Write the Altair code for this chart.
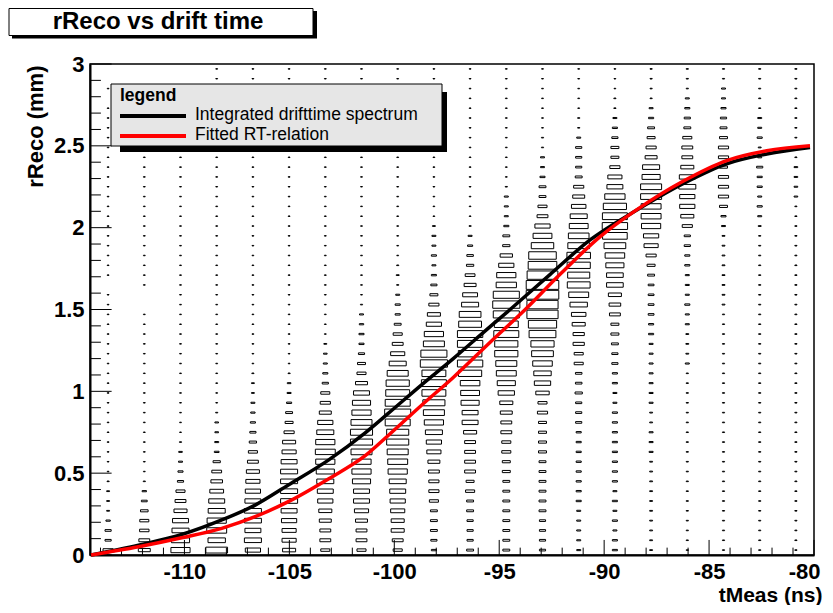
import altair as alt
import pandas as pd

# ---------------- binning of the 2D histogram ----------------
X_MIN, X_MAX = -114.5, -80.0
Y_MIN, Y_MAX = 0.0, 3.0
N_X, N_Y = 20, 50

B = 0.05  # size of the faint background dots

# relative box size per cell, one list per tMeas bin (rows: rReco bins from 0 upward)
col00 = [0.28, 0.17, 0.17, 0.12, 0.08, 0.08, 0.08, 0.06, 0.05, 0.05,
         0.05, 0.05, 0.05, 0.05, 0.05, 0.05, 0.05, 0.05, 0.05, 0.05,
         0.05, 0.05, 0.05, 0.05, 0.05, 0.05, 0.05, 0.00, 0.05, 0.05,
         0.05, 0.05, 0.05, 0.05, 0.05, 0.05, 0.05, 0.05, 0.05, 0.05,
         0.05, 0.05, 0.05, 0.05, 0.05, 0.05, 0.00, 0.05, 0.00, 0.00]
col01 = [0.33, 0.30, 0.26, 0.25, 0.21, 0.16, 0.12, 0.06, 0.05, 0.05,
         0.05, 0.05, 0.05, 0.05, 0.05, 0.05, 0.05, 0.05, 0.05, 0.05,
         0.05, 0.05, 0.05, 0.05, 0.05, 0.00, 0.00, 0.05, 0.05, 0.05,
         0.05, 0.05, 0.05, 0.05, 0.05, 0.05, 0.05, 0.05, 0.05, 0.05,
         0.05, 0.05, 0.05, 0.05, 0.05, 0.05, 0.05, 0.05, 0.00, 0.00]
col02 = [0.53, 0.50, 0.47, 0.44, 0.36, 0.30, 0.25, 0.17, 0.14, 0.11,
         0.10, 0.06] + [B] * 36 + [0.00, 0.00]
col03 = [0.60, 0.48, 0.55, 0.53, 0.47, 0.44, 0.38, 0.32, 0.27, 0.20,
         0.13, 0.11, 0.10, 0.10, 0.06] + [B] * 35
col04 = [0.42, 0.47, 0.44, 0.47, 0.47, 0.44, 0.42, 0.39, 0.36, 0.30,
         0.25, 0.20, 0.17, 0.14, 0.12, 0.11, 0.08, 0.08, 0.06] + [B] * 31
col05 = [0.36, 0.39, 0.39, 0.42, 0.44, 0.47, 0.47, 0.47, 0.47, 0.44,
         0.39, 0.36, 0.28, 0.22, 0.19, 0.14, 0.11, 0.10, 0.06] + [B] * 31
col06 = [0.25, 0.30, 0.30, 0.33, 0.36, 0.42, 0.44, 0.47, 0.50, 0.53,
         0.55, 0.53, 0.47, 0.42, 0.33, 0.28, 0.25, 0.17, 0.14, 0.11,
         0.10, 0.08] + [B] * 28
col07 = [0.25, 0.30, 0.30, 0.33, 0.39, 0.44, 0.44, 0.50, 0.53, 0.53,
         0.58, 0.61, 0.61, 0.58, 0.53, 0.50, 0.44, 0.33, 0.25, 0.22,
         0.17, 0.14, 0.14, 0.12, 0.11, 0.06] + [B] * 24
col08 = [0.25, 0.30, 0.36, 0.36, 0.39, 0.42, 0.44, 0.47, 0.53, 0.55,
         0.58, 0.61, 0.61, 0.69, 0.72, 0.69, 0.66, 0.64, 0.58, 0.47,
         0.39, 0.30, 0.25, 0.19, 0.14, 0.14, 0.11, 0.06, 0.08, 0.06] + [B] * 20
col09 = [0.14, 0.17, 0.19, 0.19, 0.19, 0.25, 0.28, 0.28, 0.30, 0.33,
         0.39, 0.42, 0.47, 0.53, 0.58, 0.61, 0.66, 0.69, 0.66, 0.75,
         0.72, 0.58, 0.53, 0.42, 0.36, 0.28, 0.22, 0.17, 0.14, 0.11,
         0.14, 0.11, 0.11, 0.08] + [B] * 16
col10 = [0.19, 0.17, 0.17, 0.17, 0.19, 0.19, 0.25, 0.22, 0.30, 0.30,
         0.30, 0.30, 0.36, 0.44, 0.44, 0.50, 0.52, 0.54, 0.64, 0.70,
         0.65, 0.70, 0.70, 0.63, 0.60, 0.47, 0.41, 0.33, 0.27, 0.20,
         0.18, 0.14, 0.11, 0.06] + [B] * 16
col11 = [0.19, 0.19, 0.19, 0.19, 0.19, 0.19, 0.19, 0.19, 0.22, 0.22,
         0.25, 0.25, 0.30, 0.30, 0.33, 0.36, 0.45, 0.50, 0.55, 0.58,
         0.64, 0.64, 0.69, 0.66, 0.72, 0.75, 0.72, 0.56, 0.53, 0.42,
         0.34, 0.20, 0.19, 0.14, 0.11, 0.11, 0.11, 0.06] + [B] * 12
col12 = [0.17, 0.17, 0.17, 0.17, 0.19, 0.19, 0.19, 0.19, 0.19, 0.19,
         0.22, 0.22, 0.22, 0.22, 0.28, 0.25, 0.37, 0.45, 0.48, 0.54,
         0.60, 0.64, 0.74, 0.78, 0.86, 0.86, 0.90, 0.90, 0.85, 0.79,
         0.76, 0.62, 0.52, 0.42, 0.30, 0.25, 0.19, 0.19, 0.14, 0.11,
         0.11, 0.06, 0.06] + [B] * 7
col13 = [0.11, 0.11, 0.11, 0.11, 0.11, 0.14, 0.14, 0.14, 0.14, 0.14,
         0.14, 0.14, 0.14, 0.17, 0.17, 0.17, 0.20, 0.18, 0.18, 0.25,
         0.25, 0.31, 0.31, 0.36, 0.40, 0.48, 0.55, 0.63, 0.61, 0.64,
         0.65, 0.60, 0.57, 0.52, 0.47, 0.40, 0.33, 0.28, 0.19, 0.17,
         0.17, 0.17, 0.11, 0.06, 0.06, 0.05, 0.05, 0.05, 0.05, 0.05]
col14 = [0.14, 0.14, 0.11, 0.14, 0.11, 0.14, 0.11, 0.14, 0.14, 0.14,
         0.14, 0.14, 0.14, 0.14, 0.14, 0.11, 0.11, 0.14, 0.14, 0.17,
         0.17, 0.19, 0.22, 0.22, 0.30, 0.32, 0.36, 0.46, 0.46, 0.50,
         0.54, 0.60, 0.68, 0.70, 0.69, 0.64, 0.56, 0.44, 0.39, 0.28,
         0.22, 0.22, 0.17, 0.14, 0.11, 0.06, 0.06, 0.05, 0.05, 0.05]
col15 = [0.08, 0.08, 0.08, 0.08, 0.08, 0.08, 0.08, 0.08, 0.08, 0.08,
         0.11, 0.11, 0.11, 0.08, 0.08, 0.11, 0.11, 0.11, 0.11, 0.11,
         0.11, 0.11, 0.14, 0.14, 0.16, 0.16, 0.16, 0.16, 0.19, 0.22,
         0.28, 0.39, 0.42, 0.53, 0.55, 0.55, 0.58, 0.58, 0.50, 0.47,
         0.33, 0.28, 0.22, 0.19, 0.14, 0.11, 0.06, 0.06, 0.06, 0.06]
col16 = [0.06, 0.06, 0.06, 0.06, 0.06, 0.06, 0.06, 0.06, 0.06, 0.06,
         0.06, 0.06, 0.06, 0.06, 0.06, 0.06, 0.06, 0.06, 0.06, 0.11,
         0.08, 0.08, 0.08, 0.11, 0.11, 0.14, 0.11, 0.11, 0.11, 0.14,
         0.14, 0.17, 0.17, 0.28, 0.36, 0.42, 0.42, 0.47, 0.44, 0.36,
         0.30, 0.30, 0.25, 0.19, 0.17, 0.14, 0.11, 0.06, 0.06, 0.06]
col17 = [0.06, 0.06, 0.06, 0.06, 0.06, 0.06, 0.06, 0.06, 0.06, 0.06,
         0.06, 0.06, 0.06, 0.06, 0.06, 0.06, 0.06, 0.06, 0.06, 0.06,
         0.06, 0.06, 0.06, 0.06, 0.06, 0.08, 0.08, 0.08, 0.08, 0.08,
         0.08, 0.08, 0.08, 0.11, 0.14, 0.22, 0.28, 0.28, 0.28, 0.22,
         0.28, 0.28, 0.22, 0.19, 0.17, 0.14, 0.11, 0.11, 0.06, 0.06]
col18 = [0.06, 0.06, 0.06, 0.06, 0.06, 0.06, 0.06, 0.06, 0.06, 0.06,
         0.06, 0.06, 0.06, 0.06, 0.06, 0.06, 0.06, 0.06, 0.06, 0.06,
         0.06, 0.06, 0.06, 0.06, 0.06, 0.06, 0.06, 0.06, 0.06, 0.06,
         0.06, 0.06, 0.06, 0.08, 0.11, 0.14, 0.11, 0.14, 0.14, 0.17,
         0.11, 0.08, 0.14, 0.11, 0.11, 0.06, 0.06, 0.06, 0.06, 0.06]
col19 = [0.06, 0.06, 0.06, 0.06, 0.06, 0.06, 0.06, 0.06, 0.06, 0.06,
         0.06, 0.06, 0.06, 0.06, 0.06, 0.06, 0.06, 0.06, 0.06, 0.06,
         0.06, 0.06, 0.06, 0.06, 0.06, 0.06, 0.06, 0.06, 0.06, 0.06,
         0.06, 0.06, 0.06, 0.06, 0.06, 0.06, 0.10, 0.10, 0.10, 0.10,
         0.06, 0.06, 0.06, 0.06, 0.06, 0.06, 0.06, 0.06, 0.06, 0.06]
columns = [col00, col01, col02, col03, col04, col05, col06, col07, col08, col09,
           col10, col11, col12, col13, col14, col15, col16, col17, col18, col19]

# ---------------- curves ----------------
black_t = [-114.45, -112.19, -110.13, -108.22, -106.63, -105.05, -103.14, -101.40,
           -100.29, -98.70, -97.19, -95.75, -94.48, -92.57, -90.67, -88.44,
           -86.22, -84.16, -82.25, -80.19]
black_r = [0.0, 0.060, 0.125, 0.214, 0.305, 0.428, 0.580, 0.745,
           0.865, 1.040, 1.200, 1.360, 1.500, 1.715, 1.925, 2.108,
           2.270, 2.390, 2.450, 2.490]
red_t = [-114.45, -112.19, -110.13, -108.22, -106.63, -105.05, -103.14, -101.40,
         -100.29, -98.70, -97.19, -95.43, -93.76, -92.10, -90.19, -88.44,
         -86.22, -84.16, -82.25, -80.19]
red_r = [0.0, 0.050, 0.105, 0.163, 0.234, 0.326, 0.465, 0.605,
         0.730, 0.915, 1.085, 1.300, 1.500, 1.715, 1.945, 2.110,
         2.285, 2.410, 2.470, 2.500]

series_names = ["Integrated drifttime spectrum", "Fitted RT-relation"]
x_labels = [-110, -105, -100, -95, -90, -85, -80]
y_labels = [0, 0.5, 1, 1.5, 2, 2.5, 3]
x_minor = list(range(-114, -79))
y_minor = [round(0.1 * k, 1) for k in range(0, 31)]

FONT = "Liberation Sans"
W, H = 724, 491

# ---------------- tables ----------------
bw = (X_MAX - X_MIN) / N_X
bh = (Y_MAX - Y_MIN) / N_Y
recs = []
for j, col in enumerate(columns):
    for i, f in enumerate(col):
        if f > 0:
            recs.append({"tc": X_MIN + bw * (j + 0.5), "rc": Y_MIN + bh * (i + 0.5), "f": f})
box_df = pd.DataFrame(recs)

xt_df = pd.DataFrame({"t": x_minor, "r0": 0.0,
                      "r1": [0.092 if v % 5 == 0 else 0.045 for v in x_minor]})
yt_df = pd.DataFrame({"r": y_minor, "t0": X_MIN,
                      "t1": [X_MIN + (1.03 if round(v * 10) % 5 == 0 else 0.52) for v in y_minor]})
black_df = pd.DataFrame({"t": black_t, "r": black_r})
red_df = pd.DataFrame({"t": red_t, "r": red_r})
one = pd.DataFrame({"k": [0]})

xs = alt.Scale(domain=[X_MIN, X_MAX], nice=False, zero=False)
ys = alt.Scale(domain=[Y_MIN, Y_MAX], nice=False, zero=False)

x_axis = alt.Axis(title="tMeas (ns)", values=x_labels, labelExpr="'' + datum.value",
                  labelPadding=6, labelFlush=True, labelFlushOffset=6,
                  titleAnchor="end", titleAlign="right", titleFontSize=21,
                  titleX=W + 8, titleY=46, titleBaseline="alphabetic")
y_axis = alt.Axis(title="rReco (mm)", values=y_labels, labelExpr="'' + datum.value",
                  labelPadding=6, labelFlush=False, titleAngle=270, titleAlign="right",
                  titleBaseline="middle", titleX=-55, titleY=1)


def X(field):
    return alt.X(field, scale=xs, axis=x_axis, title="tMeas (ns)")


def Y(field):
    return alt.Y(field, scale=ys, axis=y_axis, title="rReco (mm)")


boxes = alt.Chart(box_df).transform_calculate(
    t1=f"datum.tc - datum.f * {bw / 2}",
    t2=f"datum.tc + datum.f * {bw / 2}",
    r1=f"datum.rc - datum.f * {bh / 2}",
    r2=f"datum.rc + datum.f * {bh / 2}",
).mark_rect(fillOpacity=0, stroke="black", strokeWidth=1).encode(
    x=X("t1:Q"), x2="t2:Q", y=Y("r1:Q"), y2="r2:Q",
)

xticks = alt.Chart(xt_df).mark_rule(color="black", strokeWidth=1).encode(
    x=X("t:Q"), y=Y("r0:Q"), y2="r1:Q")
yticks = alt.Chart(yt_df).mark_rule(color="black", strokeWidth=1).encode(
    y=Y("r:Q"), x=X("t0:Q"), x2="t1:Q")

black_line = alt.Chart(black_df).mark_line(color="black", strokeWidth=3.5, interpolate="monotone").encode(
    x=X("t:Q"), y=Y("r:Q"))
red_line = alt.Chart(red_df).mark_line(color="#ff0000", strokeWidth=3.5, interpolate="monotone").encode(
    x=X("t:Q"), y=Y("r:Q"))

# legend (drawn as in the ROOT canvas: grey box with drop shadow)
leg_shadow = alt.Chart(one).mark_rect(color="black").encode(
    x=alt.value(30), x2=alt.value(357), y=alt.value(28), y2=alt.value(88))
leg_box = alt.Chart(one).mark_rect(fill="#e6e6e6", stroke="black", strokeWidth=1).encode(
    x=alt.value(21), x2=alt.value(352), y=alt.value(20), y2=alt.value(82))
leg_title = alt.Chart(one).mark_text(text="legend", font=FONT, fontWeight="bold", fontSize=17.5,
                                     align="left", baseline="alphabetic", color="black").encode(
    x=alt.value(30), y=alt.value(37))
leg_l1 = alt.Chart(one).mark_rule(color="black", strokeWidth=4).encode(
    x=alt.value(30), x2=alt.value(96), y=alt.value(52))
leg_t1 = alt.Chart(one).mark_text(text=series_names[0], font=FONT, fontSize=17.5, align="left",
                                  baseline="middle", color="black").encode(
    x=alt.value(105), y=alt.value(51))
leg_l2 = alt.Chart(one).mark_rule(color="#ff0000", strokeWidth=4).encode(
    x=alt.value(30), x2=alt.value(96), y=alt.value(72))
leg_t2 = alt.Chart(one).mark_text(text=series_names[1], font=FONT, fontSize=17.5, align="left",
                                  baseline="middle", color="black").encode(
    x=alt.value(105), y=alt.value(71))

# title box
tit_shadow = alt.Chart(one).mark_rect(color="black").encode(
    x=alt.value(-78), x2=alt.value(227), y=alt.value(-53), y2=alt.value(-25.5))
tit_box = alt.Chart(one).mark_rect(fill="white", stroke="black", strokeWidth=1).encode(
    x=alt.value(-81), x2=alt.value(223), y=alt.value(-55.5), y2=alt.value(-28.5))
tit_text = alt.Chart(one).mark_text(text="rReco vs drift time", font=FONT, fontWeight="bold",
                                    fontSize=24, align="center", baseline="middle", color="black").encode(
    x=alt.value(68), y=alt.value(-42))

chart = alt.layer(
    boxes, xticks, yticks, black_line, red_line,
    leg_shadow, leg_box, leg_title, leg_l1, leg_t1, leg_l2, leg_t2,
    tit_shadow, tit_box, tit_text,
).properties(
    width=W, height=H,
    padding={"left": 82, "top": 56, "right": 11, "bottom": 50},
    autosize=alt.AutoSizeParams(type="none"),
    background="white",
).configure_view(
    stroke="black", strokeWidth=1.5
).configure_axis(
    domainColor="black", domainWidth=2, ticks=False, grid=False,
    labelFont=FONT, labelFontWeight="bold", labelFontSize=22, labelColor="black",
    titleFont=FONT, titleFontWeight="bold", titleFontSize=22, titleColor="black",
)

chart.save("out.html", embed_options={"renderer": "svg", "actions": False})
